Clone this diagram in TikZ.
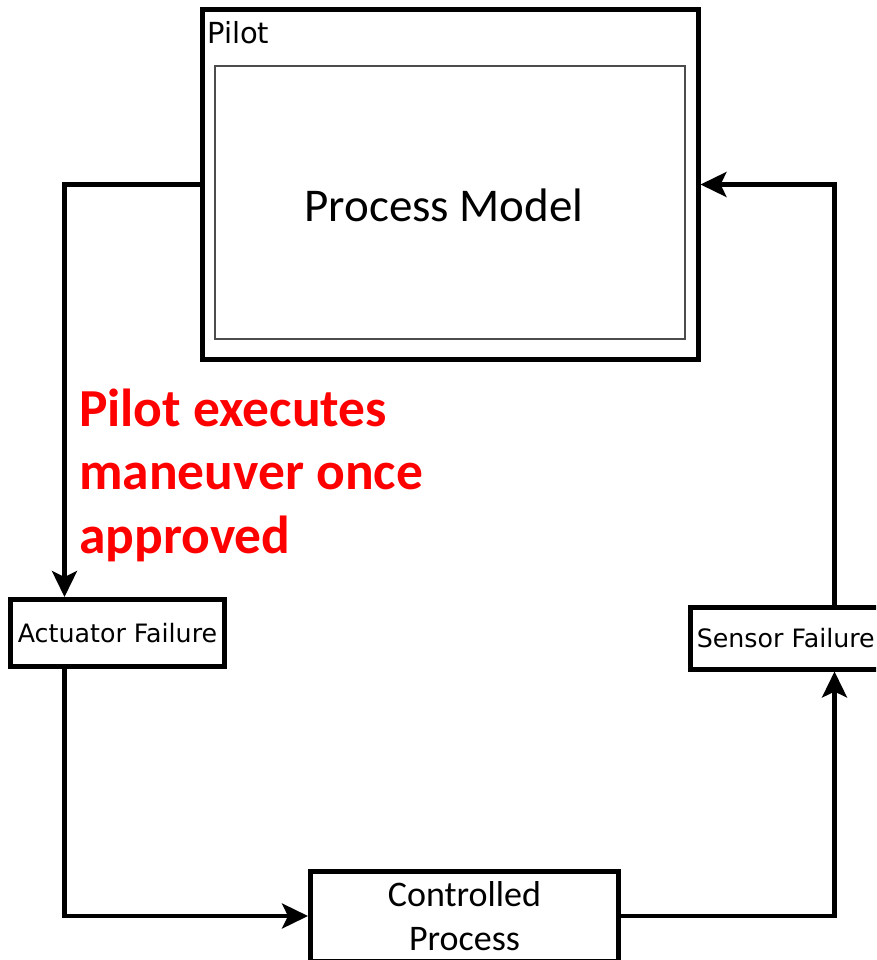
\documentclass[tikz,border=0pt]{standalone}
\usepackage{fontspec}
\setmainfont{Carlito}
\newfontfamily\dejavu{DejaVu Sans}
\usetikzlibrary{arrows.meta}
\begin{document}
\begin{tikzpicture}[x=1pt, y=-1pt,
  box/.style={draw, line width=5pt, inner sep=0pt, fill=white},
  flow/.style={draw, line width=4.3pt, line join=miter,
    -{Stealth[length=26pt, width=25pt, inset=6pt]}},
  boxlabel/.style={font=\dejavu\fontsize{25.3}{30}\selectfont},
  note/.style={anchor=base west, inner sep=0pt, text=red,
    font=\bfseries\fontsize{53.5}{64}\selectfont}]
\useasboundingbox (0,0) rectangle (876,960);
\clip (0,0) rectangle (876,960);

% controller with its process model
\node[box, minimum width=495.5pt, minimum height=350pt] (pilot) at (450.25,184.5) {};
\node[draw=black!70, line width=1.5pt, inner sep=0pt,
      minimum width=470pt, minimum height=273pt] (model) at (450,202.5) {};
\node[anchor=base west, inner sep=0pt, font=\dejavu\fontsize{29}{34}\selectfont]
  (pilotlabel) at (207,44) {Pilot};
\node[anchor=base, inner sep=0pt, font=\fontsize{47}{56}\selectfont]
  (modeltext) at (444,221) {Process Model};

% failure points and the controlled process
\node[box, boxlabel, minimum width=214pt, minimum height=67pt] (act) at (117.5,633) {Actuator Failure};
\node[box, boxlabel, minimum width=190.5pt, minimum height=62pt] (sensor) at (785.75,638) {Sensor Failure};
\node[box, align=center, minimum width=308pt, minimum height=90pt,
      font=\fontsize{36}{44}\selectfont] (ctrl) at (464.5,916) {Controlled\\Process};

% columns used by the loop
\coordinate (lcol) at (64.5,0);
\coordinate (rcol) at (834.5,0);

% control loop
\draw[flow] (pilot.west) -| (lcol |- act.north);
\draw[flow] (lcol |- act.south) |- (ctrl.west);
\draw[flow] (ctrl.east) -| (rcol |- sensor.south);
\draw[flow] (rcol |- sensor.north) |- (pilot.east);

% annotation
\node[note] (note1) at (79,426) {Pilot executes};
\node[note] (note2) at (79,489) {maneuver once};
\node[note] (note3) at (79,553) {approved};
\end{tikzpicture}
\end{document}
